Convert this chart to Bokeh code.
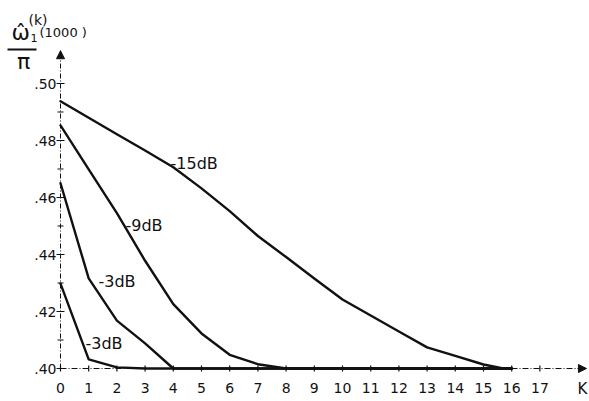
from bokeh.plotting import figure
from bokeh.models import Range1d, Arrow, NormalHead
from bokeh.core.properties import value
from bokeh.embed import file_html
from bokeh.resources import INLINE

# ---- data ----
x_ticks = list(range(0, 18))
x_tick_labels = [str(k) for k in x_ticks]
y_major = [0.40, 0.42, 0.44, 0.46, 0.48, 0.50]
y_major_labels = [".40", ".42", ".44", ".46", ".48", ".50"]
y_minor = [0.41, 0.43, 0.45, 0.47, 0.49]

k_15 = [0, 1, 2, 3, 4, 5, 6, 7, 8, 9, 10, 11, 12, 13, 14, 15, 15.7, 16]
v_15 = [0.4938, 0.4880, 0.4822, 0.4765, 0.4706, 0.4632, 0.4552, 0.4465, 0.4391,
        0.4316, 0.4242, 0.4186, 0.4130, 0.4074, 0.4044, 0.4014, 0.4000, 0.4000]

k_9 = [0, 1, 2, 3, 4, 5, 6, 7, 8, 16]
v_9 = [0.4853, 0.4699, 0.4545, 0.4378, 0.4226, 0.4123, 0.4048, 0.4015, 0.4000, 0.4000]

k_3a = [0, 1, 2, 3, 4, 16]
v_3a = [0.4650, 0.4316, 0.4168, 0.4088, 0.4000, 0.4000]

k_3b = [0, 1, 2, 3, 16]
v_3b = [0.4298, 0.4032, 0.4004, 0.4000, 0.4000]

curve_labels = ["-15dB", "-9dB", "-3dB", "-3dB"]

# ---- geometry (page px -> data) ----
W, H = 589, 401
PX_K = 28.2        # px per unit k
PX_V = 2850.0      # px per unit value
X0 = 60            # x of k=0
Y0 = 368           # y (from top) of v=0.40

def pk(px):  # page x -> k
    return (px - X0) / PX_K

def pv(py):  # page y -> value
    return 0.40 + (Y0 - py) / PX_V

p = figure(width=W, height=H, output_backend="svg", toolbar_location=None,
           x_range=Range1d(-X0 / PX_K, (W - X0) / PX_K),
           y_range=Range1d(0.40 - (H - Y0) / PX_V, 0.40 + Y0 / PX_V),
           min_border=0, outline_line_color=None)
p.axis.visible = False
p.grid.visible = False

FONT = value("DejaVu Sans")
INK = "#111111"

# axes
AX_Y_END = 0.5115
AX_X_END = 18.65
p.segment(x0=[0], y0=[y_major[0]], x1=[0], y1=[AX_Y_END], line_color=INK,
          line_width=1, line_dash="5 2 1 2")
p.segment(x0=[0], y0=[y_major[0]], x1=[AX_X_END], y1=[y_major[0]], line_color=INK,
          line_width=1.2, line_dash="6 2 1 2")
p.add_layout(Arrow(end=NormalHead(size=8, fill_color=INK, line_color=INK),
                   x_start=0, y_start=AX_Y_END - 0.002, x_end=0, y_end=AX_Y_END,
                   line_color=INK, line_width=1))
p.add_layout(Arrow(end=NormalHead(size=8, fill_color=INK, line_color=INK),
                   x_start=AX_X_END - 0.1, y_start=0.40, x_end=AX_X_END, y_end=0.40,
                   line_color=INK, line_width=1))

# y ticks (crosses)
dk_maj = 4 / PX_K
dk_min = 3 / PX_K
p.segment(x0=[-dk_maj] * len(y_major), y0=y_major, x1=[dk_maj] * len(y_major), y1=y_major,
          line_color=INK, line_width=1.2)
p.segment(x0=[-dk_min] * len(y_minor), y0=y_minor, x1=[dk_min] * len(y_minor), y1=y_minor,
          line_color=INK, line_width=1.2)
p.text(x=[pk(56)] * len(y_major), y=y_major, text=y_major_labels, text_font=FONT,
       text_font_size="14px", text_align="right", text_baseline="middle", text_color=INK)

# x ticks
dv = 3 / PX_V
p.segment(x0=x_ticks, y0=[0.40 - dv] * len(x_ticks), x1=x_ticks, y1=[0.40 + dv] * len(x_ticks),
          line_color=INK, line_width=1.2)
p.text(x=x_ticks, y=[pv(387)] * len(x_ticks), text=x_tick_labels, text_font=FONT,
       text_font_size="14px", text_align="center", text_baseline="middle", text_color=INK)
p.text(x=[pk(582)], y=[pv(388)], text=["K"], text_font=FONT, text_font_size="15px",
       text_align="center", text_baseline="middle", text_color=INK)

# curves
for ks, vs in [(k_15, v_15), (k_9, v_9), (k_3a, v_3a), (k_3b, v_3b)]:
    p.line(ks, vs, line_color=INK, line_width=2.4, line_join="round", line_cap="round")

# curve labels
lab_x = [pk(170), pk(125), pk(98), pk(85)]
lab_y = [pv(163), pv(225), pv(281), pv(343)]
p.text(x=lab_x, y=lab_y, text=curve_labels, text_font=FONT, text_font_size="16px",
       text_align="left", text_baseline="middle", text_color=INK)

# y axis title:  omega-hat_1^(k)(1000) / pi
p.text(x=[pk(11)], y=[pv(32)], text=["\u03c9\u0302"], text_font=FONT, text_font_size="22px",
       text_align="left", text_baseline="middle", text_color=INK)
p.text(x=[pk(28)], y=[pv(19)], text=["(k)"], text_font=FONT, text_font_size="14px",
       text_align="left", text_baseline="middle", text_color=INK)
p.text(x=[pk(30)], y=[pv(37)], text=["1"], text_font=FONT, text_font_size="11px",
       text_align="left", text_baseline="middle", text_color=INK)
p.text(x=[pk(39)], y=[pv(32)], text=["(1000 )"], text_font=FONT, text_font_size="13px",
       text_align="left", text_baseline="middle", text_color=INK)
p.segment(x0=[pk(7)], y0=[pv(49)], x1=[pk(36)], y1=[pv(49)], line_color=INK, line_width=1.8)
p.text(x=[pk(23)], y=[pv(61)], text=["\u03c0"], text_font=FONT, text_font_size="22px",
       text_align="center", text_baseline="middle", text_color=INK)

open("out.html", "w").write(file_html(p, INLINE))
